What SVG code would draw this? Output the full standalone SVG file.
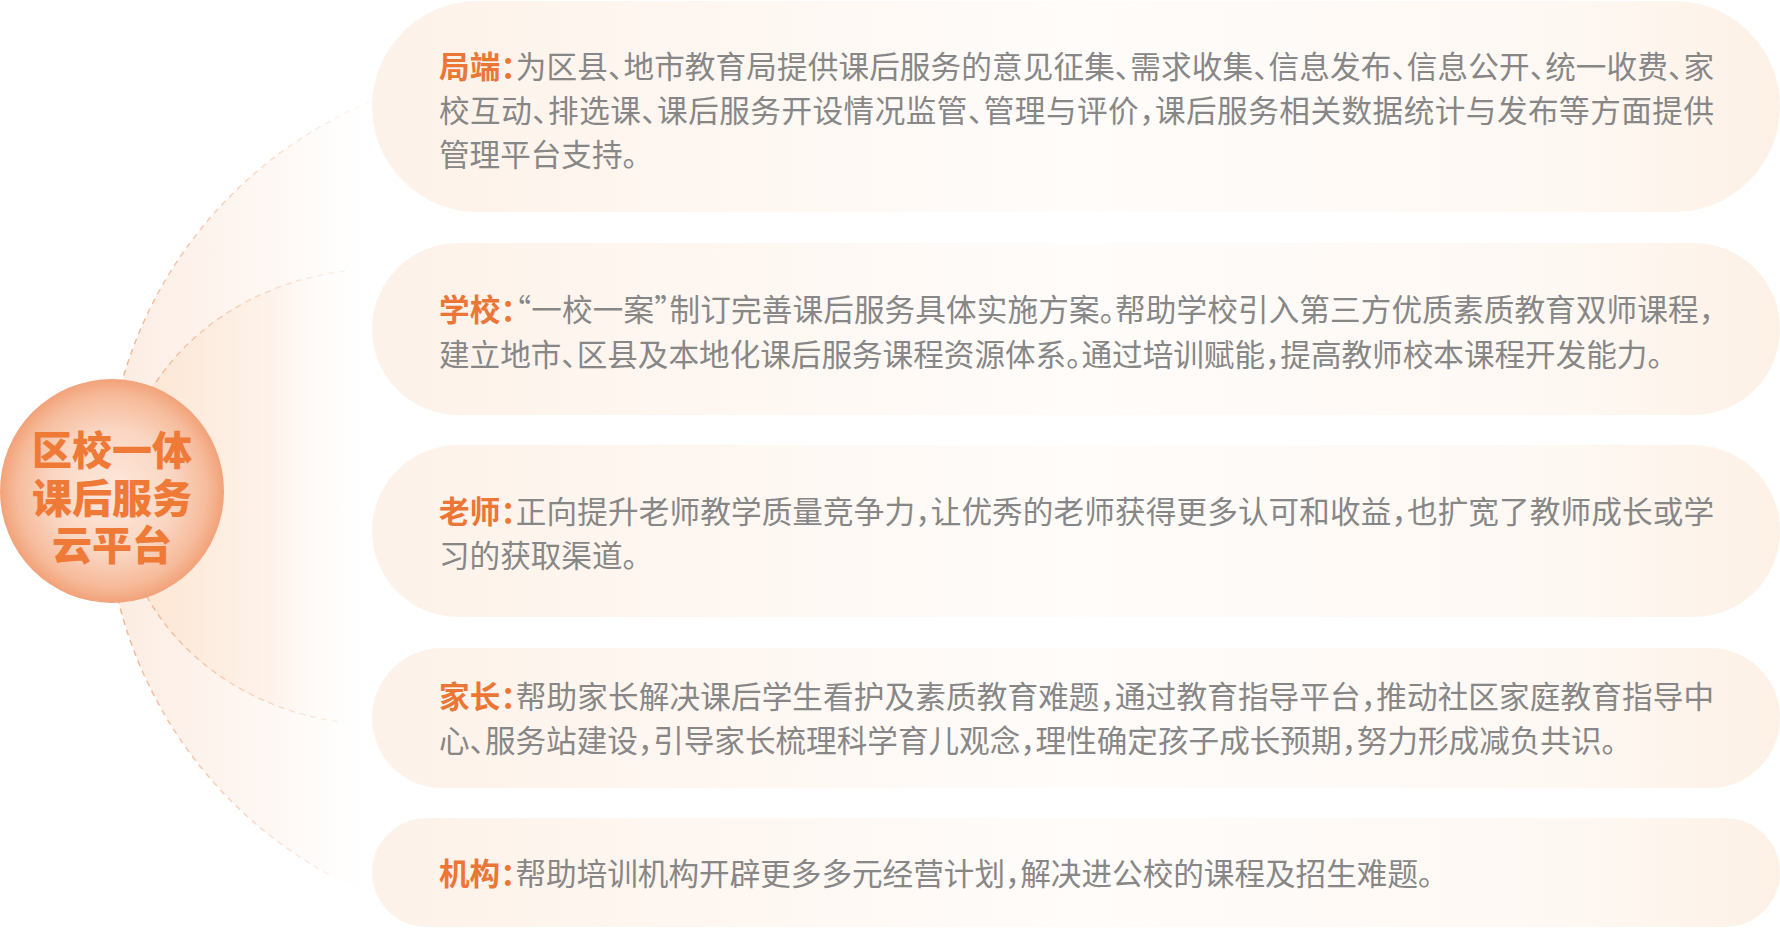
<svg xmlns="http://www.w3.org/2000/svg" width="1780" height="939" viewBox="0 0 1780 939">
<defs>
  <linearGradient id="pillGrad" x1="0" y1="0" x2="1" y2="0">
    <stop offset="0" stop-color="#fdf2e9"/>
    <stop offset="0.5" stop-color="#fffcfa"/>
    <stop offset="0.85" stop-color="#fef8f3"/>
    <stop offset="1" stop-color="#fdf1e6"/>
  </linearGradient>
  <linearGradient id="fanOuter" gradientUnits="userSpaceOnUse" x1="106" y1="0" x2="390" y2="0">
    <stop offset="0" stop-color="#fcebe0" stop-opacity="1"/>
    <stop offset="0.6" stop-color="#fdf3ed" stop-opacity="0.6"/>
    <stop offset="1" stop-color="#ffffff" stop-opacity="0"/>
  </linearGradient>
  <linearGradient id="fanInner" gradientUnits="userSpaceOnUse" x1="120" y1="0" x2="360" y2="0">
    <stop offset="0" stop-color="#fde4cf" stop-opacity="1"/>
    <stop offset="0.6" stop-color="#fdeee2" stop-opacity="0.6"/>
    <stop offset="1" stop-color="#ffffff" stop-opacity="0"/>
  </linearGradient>
  <linearGradient id="dashGrad" gradientUnits="userSpaceOnUse" x1="100" y1="0" x2="390" y2="0">
    <stop offset="0" stop-color="#f3ae86" stop-opacity="1"/>
    <stop offset="1" stop-color="#f3ae86" stop-opacity="0"/>
  </linearGradient>
  <radialGradient id="hubGrad" cx="0.5" cy="0.5" r="0.5">
    <stop offset="0" stop-color="#fde9de"/>
    <stop offset="0.55" stop-color="#fad6c2"/>
    <stop offset="0.85" stop-color="#f6bb9b"/>
    <stop offset="1" stop-color="#f2a279"/>
  </radialGradient>
</defs>
<style>
  .pill{fill:url(#pillGrad)}
  .body{font-family:"Noto Sans CJK SC","Noto Sans CJK JP",sans-serif;font-size:30.6px;fill:#878787;font-feature-settings:"halt" 1}
  .lbl{fill:#ec7636;font-weight:700}
  .hub-text{font-family:"Noto Sans CJK SC","Noto Sans CJK JP",sans-serif;font-size:40px;font-weight:900;fill:#ef7a38;text-anchor:middle}
  .dash{fill:none;stroke:url(#dashGrad);stroke-width:1.4;stroke-dasharray:6 5}
</style>

<g id="fans">
  <circle cx="535" cy="498" r="429" fill="url(#fanOuter)"/>
  <ellipse cx="380" cy="497" rx="260" ry="228" fill="url(#fanInner)"/>
</g>

<g id="connectors">
  <path class="dash" d="M380,98 A429,429 0 0 0 330,875"/>
  <path class="dash" d="M345,271 A260,228 0 0 0 340,722"/>
</g>

<g id="node-juduan">
  <rect class="pill" x="372" y="1" width="1408" height="211" rx="105.5"/>
  <text class="body" x="439" y="78" textLength="1275" lengthAdjust="spacing"><tspan class="lbl">局端：</tspan>为区县、地市教育局提供课后服务的意见征集、需求收集、信息发布、信息公开、统一收费、家</text>
  <text class="body" x="439" y="122" textLength="1275" lengthAdjust="spacing">校互动、排选课、课后服务开设情况监管、管理与评价，课后服务相关数据统计与发布等方面提供</text>
  <text class="body" x="439" y="166">管理平台支持。</text>
</g>

<g id="node-xuexiao">
  <rect class="pill" x="372" y="243" width="1408" height="172" rx="86"/>
  <text class="body" x="439" y="321" textLength="1275" lengthAdjust="spacing"><tspan class="lbl">学校：</tspan>“一校一案”制订完善课后服务具体实施方案。帮助学校引入第三方优质素质教育双师课程，</text>
  <text class="body" x="439" y="366">建立地市、区县及本地化课后服务课程资源体系。通过培训赋能，提高教师校本课程开发能力。</text>
</g>

<g id="node-laoshi">
  <rect class="pill" x="372" y="445" width="1408" height="172" rx="86"/>
  <text class="body" x="439" y="523" textLength="1275" lengthAdjust="spacing"><tspan class="lbl">老师：</tspan>正向提升老师教学质量竞争力，让优秀的老师获得更多认可和收益，也扩宽了教师成长或学</text>
  <text class="body" x="439" y="567">习的获取渠道。</text>
</g>

<g id="node-jiazhang">
  <rect class="pill" x="372" y="648" width="1408" height="140" rx="70"/>
  <text class="body" x="439" y="708" textLength="1275" lengthAdjust="spacing"><tspan class="lbl">家长：</tspan>帮助家长解决课后学生看护及素质教育难题，通过教育指导平台，推动社区家庭教育指导中</text>
  <text class="body" x="439" y="752">心、服务站建设，引导家长梳理科学育儿观念，理性确定孩子成长预期，努力形成减负共识。</text>
</g>

<g id="node-jigou">
  <rect class="pill" x="372" y="818" width="1408" height="109" rx="54.5"/>
  <text class="body" x="439" y="885"><tspan class="lbl">机构：</tspan>帮助培训机构开辟更多多元经营计划，解决进公校的课程及招生难题。</text>
</g>

<g id="hub">
  <circle cx="112" cy="491" r="112" fill="url(#hubGrad)"/>
  <text class="hub-text" x="112" y="465"><tspan x="112" y="465">区校一体</tspan><tspan x="112" y="513">课后服务</tspan><tspan x="112" y="560">云平台</tspan></text>
</g>
</svg>
